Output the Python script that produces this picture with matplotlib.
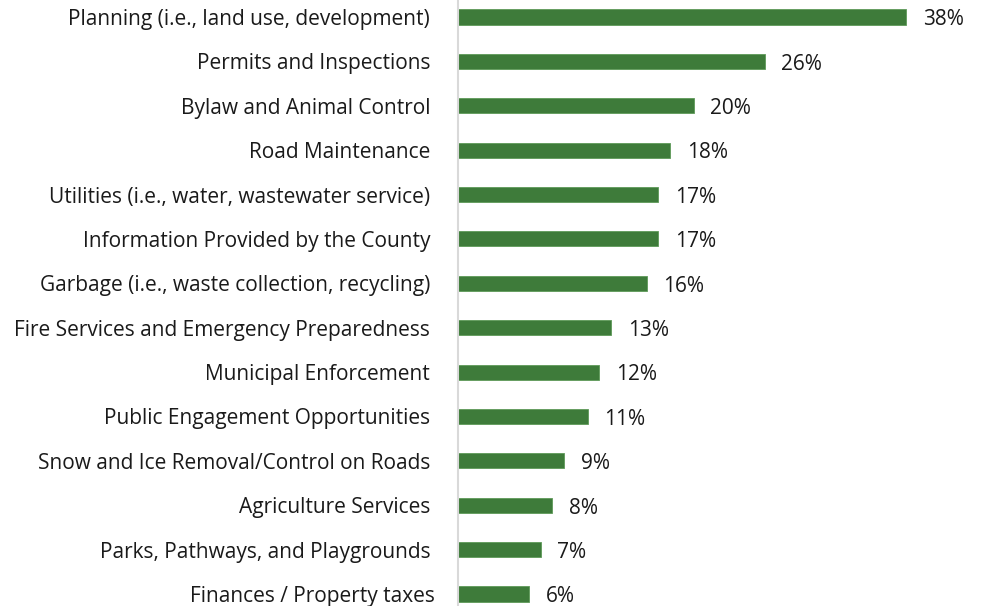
import matplotlib.pyplot as plt
import matplotlib.transforms as mtransforms

# Categories and percentage values, top to bottom
categories = [
    'Planning (i.e., land use, development)',
    'Permits and Inspections',
    'Bylaw and Animal Control',
    'Road Maintenance',
    'Utilities (i.e., water, wastewater service)',
    'Information Provided by the County',
    'Garbage (i.e., waste collection, recycling)',
    'Fire Services and Emergency Preparedness',
    'Municipal Enforcement',
    'Public Engagement Opportunities',
    'Snow and Ice Removal/Control on Roads',
    'Agriculture Services',
    'Parks, Pathways, and Playgrounds',
    'Finances / Property taxes',
]
values = [38, 26, 20, 18, 17, 17, 16, 13, 12, 11, 9, 8, 7, 6]

plt.rcParams['font.family'] = ['Open Sans', 'DejaVu Sans']

fig = plt.figure(figsize=(9.81, 6.06), dpi=100)
ax = fig.add_axes([458 / 981, 0, 1 - 458 / 981, 1])

ypos = list(range(len(categories)))
ax.barh(ypos, values, height=0.34, color='#3E7B3A', edgecolor='#5E9A58', linewidth=0.6)

for y, v in zip(ypos, values):
    ax.annotate(f'{v}%', (v, y), xytext=(12, -2), textcoords='offset points',
                va='center', ha='left', fontsize=15, color='#1a1a1a')

ax.set_xlim(0, 44.36)
ax.set_ylim(13.27, -0.383)
ax.set_yticks(ypos)
ax.set_yticklabels(categories, fontsize=15, color='#1a1a1a')
ax.tick_params(axis='y', length=0, pad=20)
ax.set_xticks([])

# last label sits a little further right in the original
last = ax.get_yticklabels()[-1]
last.set_transform(last.get_transform() + mtransforms.ScaledTranslation(5 / 100, 0, fig.dpi_scale_trans))

for s in ['top', 'right', 'bottom']:
    ax.spines[s].set_visible(False)
ax.spines['left'].set_color('#d9d9d9')
ax.spines['left'].set_linewidth(1.5)

fig.savefig('out.png', dpi=100)
